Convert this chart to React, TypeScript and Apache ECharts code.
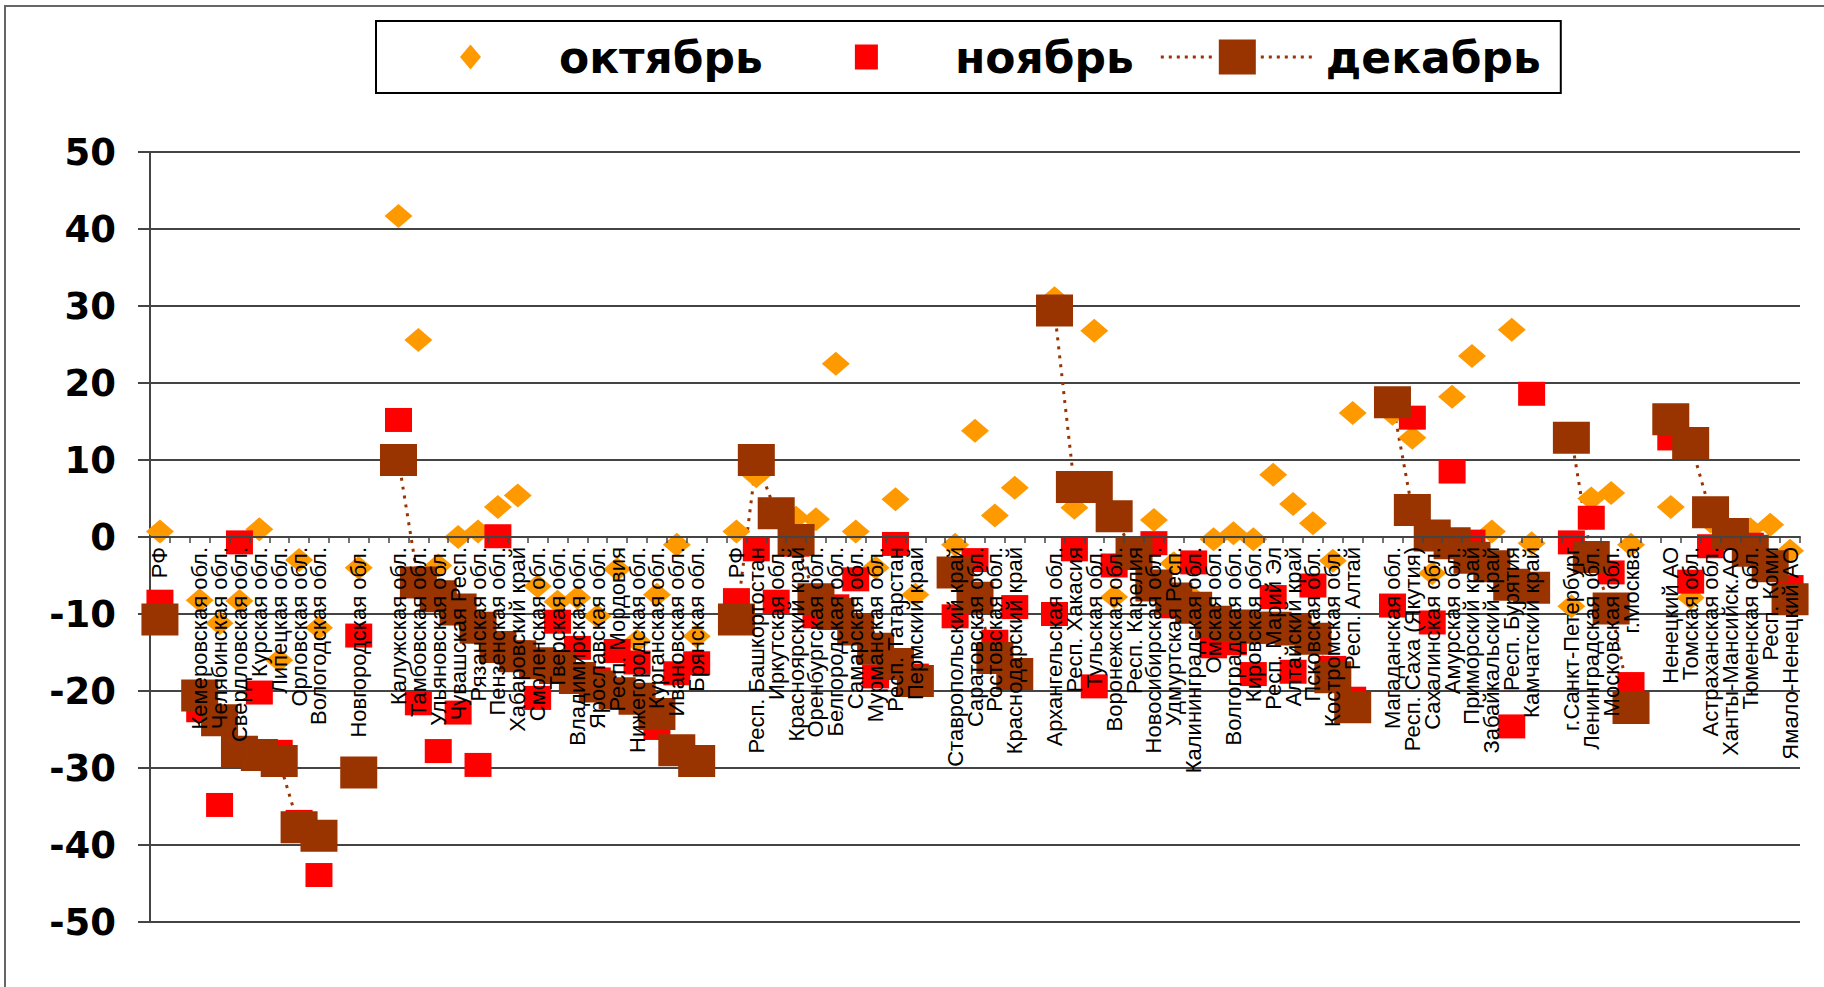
import React, { useEffect, useRef } from "react";
import * as echarts from "echarts";

// Categories ("" = spacer between groups)
const categories: string[] = [
  "РФ", "",
  "Кемеровская обл.", "Челябинская обл.", "Свердловская обл.", "Курская обл.", "Липецкая обл.", "Орловская обл.", "Вологодская обл.", "",
  "Новгородская обл.", "",
  "Калужская обл.", "Тамбовская обл.", "Ульяновская обл.", "Чувашская Респ.", "Рязанская обл.", "Пензенская обл.", "Хабаровский край", "Смоленская обл.", "Тверская обл.", "Владимирская обл.", "Ярославская обл.", "Респ. Мордовия", "Нижегородская обл.", "Курганская обл.", "Ивановская обл.", "Брянская обл.", "",
  "РФ", "Респ. Башкортостан", "Иркутская обл.", "Красноярский край", "Оренбургская обл.", "Белгородская обл.", "Самарская обл.", "Мурманская обл.", "Респ. Татарстан", "Пермский край", "",
  "Ставропольский край", "Саратовская обл.", "Ростовская обл.", "Краснодарский край", "",
  "Архангельская обл.", "Респ. Хакасия", "Тульская обл.", "Воронежская обл.", "Респ. Карелия", "Новосибирская обл.", "Удмуртская Респ.", "Калининградская обл.", "Омская обл.", "Волгоградская обл.", "Кировская обл.", "Респ. Марий Эл", "Алтайский край", "Псковская обл.", "Костромская обл.", "Респ. Алтай", "",
  "Магаданская обл.", "Респ. Саха (Якутия)", "Сахалинская обл.", "Амурская обл.", "Приморский край", "Забайкальский край", "Респ. Бурятия", "Камчатский край", "",
  "г.Санкт-Петербург", "Ленинградская обл.", "Московская обл.", "г.Москва", "",
  "Ненецкий АО", "Томская обл.", "Астраханская обл.", "Ханты-Мансийск.АО", "Тюменская обл.", "Респ. Коми", "Ямало-Ненецкий АО",
];

const october: (number | null)[] = [
  0.7, null,
  -8.2, -11.2, -8.3, 1.0, -16.0, -3.0, -11.8, null,
  -4.0, null,
  41.7, 25.6, -3.7, 0.0, 0.7, 3.9, 5.4, -6.4, -8.4, -7.9, -10.3, -4.2, -13.5, -7.5, -1.0, -12.9, null,
  0.7, 7.9, 3.0, 2.5, 2.3, 22.5, 0.7, -4.0, 4.9, -7.5, null,
  -1.0, 13.8, 2.8, 6.4, null,
  31.0, 3.8, 26.8, -7.8, -1.5, 2.2, -3.4, -8.0, -0.3, 0.5, -0.3, 8.1, 4.3, 1.8, -3.1, 16.1, null,
  16.0, 12.9, -4.7, 18.2, 23.5, 0.7, 26.9, -0.8, null,
  -9.0, 5.0, 5.7, -1.0, null,
  3.9, -7.9, 2.0, 0.5, 1.0, 1.6, -1.8,
];

const november: (number | null)[] = [
  -8.4, null,
  -22.5, -34.8, -0.7, -20.2, -27.9, -37.0, -43.9, null,
  -12.8, null,
  15.2, -21.6, -27.8, -22.8, -29.6, 0.1, -15.0, -20.9, -11.0, -14.4, -18.5, -14.8, -16.3, -24.8, -17.7, -16.4, null,
  -8.2, -1.6, -8.4, -1.0, -10.3, -9.0, -5.5, -18.1, -0.9, -18.0, null,
  -10.3, -3.0, -13.6, -9.1, null,
  -10.0, -1.6, -19.4, -3.7, -2.0, -0.8, -9.0, -3.3, -14.2, -13.8, -17.8, -7.8, -17.5, -6.3, -17.0, -21.0, null,
  -8.9, 15.5, -11.1, 8.5, -0.6, -4.0, -24.6, 18.6, null,
  -0.7, 2.5, -4.6, -19.1, null,
  12.8, -5.8, -1.2, 0.0, -1.0, -3.5, -6.5,
];

const december: (number | null)[] = [
  -10.7, null,
  -20.6, -23.8, -27.9, -28.3, -29.1, -37.7, -38.8, null,
  -30.6, null,
  10.0, -5.9, -7.7, -9.4, -11.8, -14.3, -15.5, -16.4, -17.0, -18.3, -19.4, -20.3, -21.0, -23.0, -27.7, -29.1, null,
  -10.7, 10.0, 3.1, -0.4, -8.1, -10.0, -12.0, -14.5, -16.5, -18.7, null,
  -4.6, -7.9, -15.7, -17.8, null,
  29.4, 6.5, 6.5, 2.7, -2.2, -6.3, -8.0, -9.2, -11.0, -11.5, -11.8, -11.8, -12.0, -13.2, -18.2, -22.1, null,
  17.5, 3.5, 0.2, -0.8, -2.7, -3.8, -6.2, -6.6, null,
  12.9, -2.6, -9.3, -22.2, null,
  15.3, 12.2, 3.2, 0.4, -1.8, -3.8, -8.1,
];

const seriesNames = ["октябрь", "ноябрь", "декабрь"];
const yMin = -50;
const yMax = 50;
const yInterval = 10;

// Legend icons (157 x 40 box, tiny corner anchors fix the bounding box)
const ANCHORS = "M0 0L0.01 0L0 0.01Z M157 40L156.99 40L157 39.99Z ";
const OCT_ICON = "path://" + ANCHORS + "M78.5 7.5L89 20L78.5 32.5L68 20Z";
const NOV_ICON = "path://" + ANCHORS + "M67 7.5H90V32.5H67Z";
const decDots = [2, 10, 18, 26, 34, 42, 50, 102, 110, 118, 126, 134, 142, 150]
  .map((x) => `M${x} 18.5H${x + 3}V21.5H${x}Z`)
  .join(" ");
const DEC_ICON = "path://" + ANCHORS + decDots + " M60 2.5H97V37.5H60Z";

const GRID_TOP = 152;
const GRID_BOTTOM = 65;
const CHART_H = 987;

export default function App() {
  const ref = useRef<HTMLDivElement>(null);

  useEffect(() => {
    if (!ref.current) return;
    const chart = echarts.init(ref.current, undefined, { renderer: "svg" });
    const axisColor = "#444";
    // move the category axis (line, ticks, labels) up to the zero line
    const plotH = CHART_H - GRID_TOP - GRID_BOTTOM;
    const zeroOffset = -(plotH * (0 - yMin)) / (yMax - yMin);
    chart.setOption({
      animation: false,
      backgroundColor: "#ffffff",
      textStyle: { fontFamily: "Liberation Sans" },
      graphic: [
        {
          type: "rect",
          silent: true,
          z: -10,
          shape: { x: 5, y: 6, width: 1850, height: 1010 },
          style: { fill: "none", stroke: "#666", lineWidth: 2 },
        },
      ],
      legend: {
        left: 376,
        top: 21,
        orient: "horizontal",
        padding: [14, 20, 14, 16],
        borderColor: "#000",
        borderWidth: 2,
        itemWidth: 157,
        itemHeight: 40,
        itemGap: 25,
        itemStyle: { borderWidth: 0, opacity: 1 },
        textStyle: {
          fontFamily: "DejaVu Sans",
          fontWeight: "bold",
          fontSize: 44,
          color: "#000",
          padding: [0, 0, 0, 5],
        },
        data: [
          { name: seriesNames[0], icon: OCT_ICON },
          { name: seriesNames[1], icon: NOV_ICON },
          { name: seriesNames[2], icon: DEC_ICON },
        ],
      },
      grid: { left: 150, right: 24, top: GRID_TOP, bottom: GRID_BOTTOM },
      xAxis: {
        type: "category",
        data: categories,
        boundaryGap: true,
        position: "bottom",
        offset: zeroOffset,
        z: 10,
        axisLine: { onZero: false, lineStyle: { color: axisColor, width: 2 } },
        axisTick: { show: true, interval: 0, length: 6, lineStyle: { color: axisColor, width: 1.5 } },
        axisLabel: {
          interval: 0,
          rotate: 90,
          margin: 10,
          fontSize: 22,
          fontFamily: "Liberation Sans",
          color: "#000",
        },
        splitLine: { show: false },
      },
      yAxis: {
        type: "value",
        min: yMin,
        max: yMax,
        interval: yInterval,
        z: 0,
        axisLine: { show: true, lineStyle: { color: axisColor, width: 2 } },
        axisTick: { show: true, length: 12, lineStyle: { color: axisColor, width: 2 } },
        axisLabel: {
          margin: 34,
          fontSize: 37,
          fontWeight: "bold",
          fontFamily: "DejaVu Sans",
          color: "#000",
        },
        splitLine: { show: true, lineStyle: { color: axisColor, width: 2 } },
      },
      series: [
        {
          name: seriesNames[0],
          type: "scatter",
          z: 1,
          data: october,
          symbol: "diamond",
          symbolSize: [28, 24],
          itemStyle: { color: "#FF9900", opacity: 1 },
        },
        {
          name: seriesNames[1],
          type: "scatter",
          z: 1,
          data: november,
          symbol: "rect",
          symbolSize: [27, 24],
          itemStyle: { color: "#FF0000", opacity: 1 },
        },
        {
          name: seriesNames[2],
          type: "line",
          z: 1,
          data: december,
          symbol: "rect",
          symbolSize: [37, 32],
          showAllSymbol: true,
          connectNulls: false,
          itemStyle: { color: "#993300", opacity: 1 },
          lineStyle: { color: "#993300", width: 3, type: [3, 6] },
        },
      ],
    });
    return () => chart.dispose();
  }, []);

  return (
    <div
      ref={ref}
      style={{ position: "fixed", left: 0, top: 0, width: 1824, height: 987, background: "#fff" }}
    />
  );
}
